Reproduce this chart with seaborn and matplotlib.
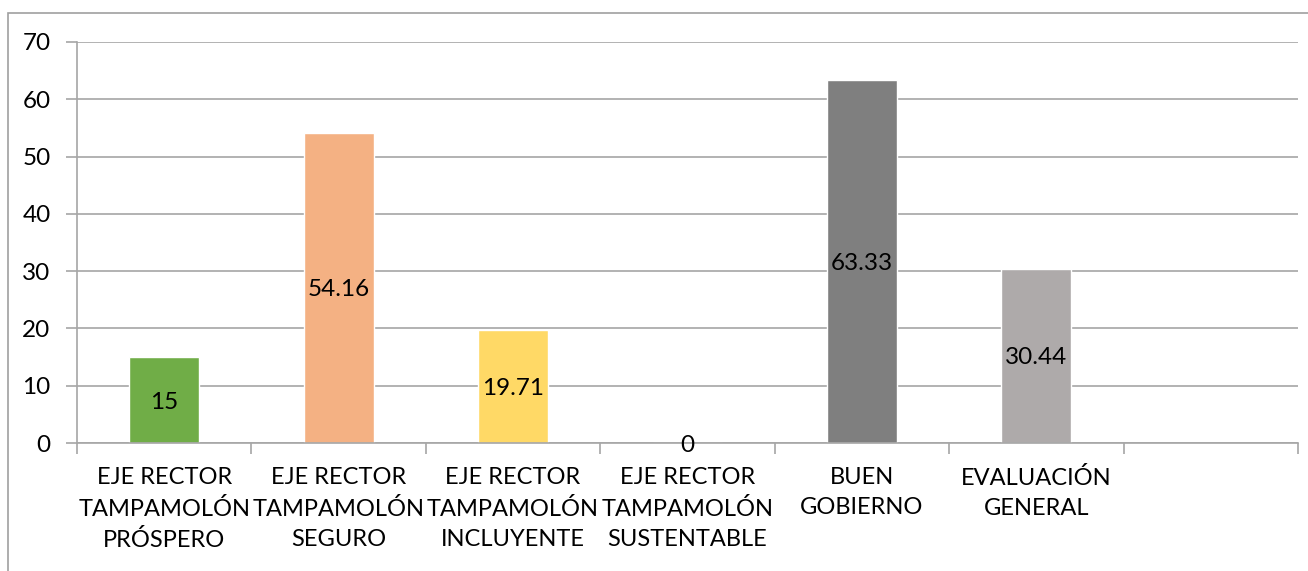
import matplotlib
matplotlib.use("Agg")
import matplotlib.pyplot as plt
import seaborn as sns
import pandas as pd
from matplotlib.patches import Rectangle

categories = ["EJE RECTOR\nTAMPAMOLÓN\nPRÓSPERO", "EJE RECTOR\nTAMPAMOLÓN\nSEGURO",
              "EJE RECTOR\nTAMPAMOLÓN\nINCLUYENTE", "EJE RECTOR\nTAMPAMOLÓN\nSUSTENTABLE",
              "BUEN\nGOBIERNO", "EVALUACIÓN\nGENERAL"]
values = [15, 54.16, 19.71, 0, 63.33, 30.44]
value_labels = ["15", "54.16", "19.71", "0", "63.33", "30.44"]
colors = ["#70AD47", "#F4B183", "#FFD966", "#A5A5A5", "#7F7F7F", "#AEAAAA"]
yticks = [0, 10, 20, 30, 40, 50, 60, 70]

sns.set_theme(style="white")
plt.rcParams['font.family'] = ['Lato', 'DejaVu Sans']

fig = plt.figure(figsize=(13.08, 5.71), dpi=100)
ax = fig.add_axes([77/1308, 1-443/571, (1298-77)/1308, (443-42)/571])

df = pd.DataFrame({"cat": categories, "val": values})
sns.barplot(data=df, x="cat", y="val", hue="cat", palette=colors, legend=False,
            width=0.4, ax=ax, saturation=1)

grid_c = "#A6A6A6"
ax.set_xlim(-0.5, 6.5)
ax.set_ylim(0, 70)
ax.set_yticks(yticks)
ax.set_yticklabels([str(v) for v in yticks], fontsize=17.5, color="#000000")
for y in yticks:
    ax.axhline(y, color=grid_c, lw=1.2, zorder=0)
ax.set_axisbelow(True)
ax.tick_params(axis="y", length=8, width=1.2, color=grid_c, pad=11, direction="out", left=True)

ax.set_xticks(range(len(categories)))
ax.set_xticklabels(categories, fontsize=17, color="#000000", linespacing=1.55)
ax.set_xticks([i - 0.5 for i in range(8)], minor=True)
ax.tick_params(axis="x", which="major", length=0, pad=17)
ax.tick_params(axis="x", which="minor", length=8, width=1.2, color=grid_c, direction="out", bottom=True)
ax.set_xlabel("")
ax.set_ylabel("")

for s in ["top", "right"]:
    ax.spines[s].set_visible(False)
for s in ["left", "bottom"]:
    ax.spines[s].set_color(grid_c)
    ax.spines[s].set_linewidth(1.2)

for i, (v, lab) in enumerate(zip(values, value_labels)):
    ax.text(i, v / 2, lab, ha="center", va="center_baseline", fontsize=17.5, color="#000000")

fig.patches.append(Rectangle((8/1308, -0.1), 1.2, 1 - 13/571 + 0.1, transform=fig.transFigure,
                             fill=False, edgecolor="#A0A0A0", lw=1.2))

fig.savefig("out.png", dpi=100, facecolor="white")
